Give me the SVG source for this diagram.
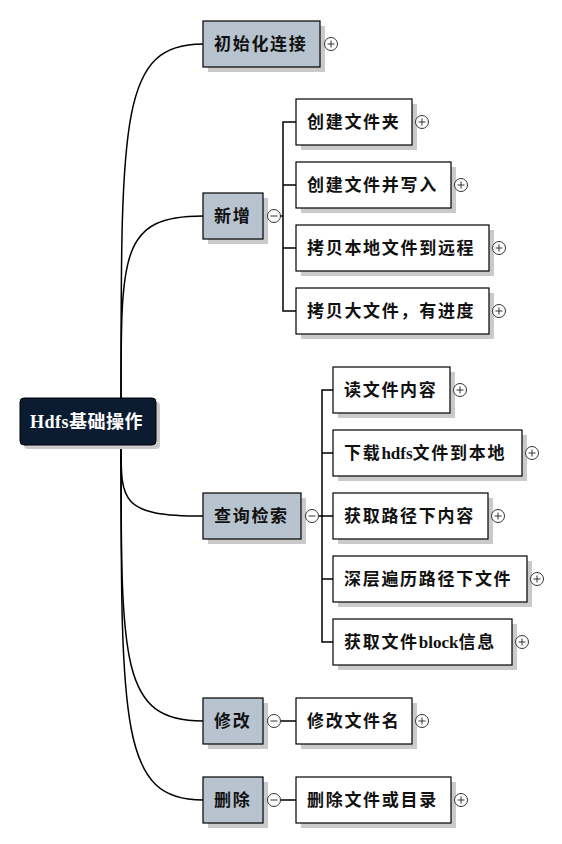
<svg xmlns="http://www.w3.org/2000/svg" width="562" height="844" viewBox="0 0 562 844">
<style>
text{font-family:'Liberation Serif','Noto Sans CJK SC',serif;font-weight:bold;font-size:17px;letter-spacing:1.7px;fill:#111}
.lat{letter-spacing:0}
.sh{fill:#cacaca}
.l1{fill:#b7c3cf;stroke:#000;stroke-width:1.2}
.l2{fill:#fff;stroke:#000;stroke-width:1.2}
.root{fill:#0b1c31;stroke:#000;stroke-width:1}
.rt{fill:#fff;font-size:18px;letter-spacing:0.5px}
.cir{fill:#fff;stroke:#333;stroke-width:1}
.sign{stroke:#333;stroke-width:1;fill:none}
.conn{fill:none;stroke:#000;stroke-width:1.5}
</style>
<defs>
<g id="plus"><circle class="cir" r="6.5"/><path class="sign" d="M-3.5,0H3.5M0,-3.5V3.5"/></g>
<g id="minus"><circle class="cir" r="6.5"/><path class="sign" d="M-3.5,0H3.5"/></g>
</defs>
<rect width="562" height="844" fill="#fff"/>
<g id="connectors">
<path class="conn" d="M121,398 C121,114.8 121,44 203,44"/>
<path class="conn" d="M121,398 C121,252.4 121,216 203,216"/>
<path class="conn" d="M121,445 C121,501.8 121,516 203,516"/>
<path class="conn" d="M121,445 C121,665.8 121,721 203,721"/>
<path class="conn" d="M121,445 C121,729 121,800 203,800"/>
<path class="conn" d="M280.5,216H283M296,122H283V311H296M283,185H296M283,248H296"/>
<path class="conn" d="M318.5,516H322M333,390H322V642H333M322,453H333M322,516H333M322,579H333"/>
<path class="conn" d="M280.5,721H296M280.5,800H296"/>
</g>
<g id="root">
<rect class="sh" x="24" y="402" width="136" height="47" rx="4"/>
<rect class="root" x="20" y="398" width="136" height="47" rx="4"/>
<text class="rt" x="30" y="428">Hdfs基础操作</text>
</g>
<g id="n-init">
<rect class="sh" x="208" y="26" width="117" height="46"/>
<rect class="l1" x="203" y="21" width="117" height="46"/>
<text x="214" y="50">初始化连接</text>
<use href="#plus" x="331" y="44"/>
</g>
<g id="n-add">
<rect class="sh" x="208" y="198" width="60" height="46"/>
<rect class="l1" x="203" y="193" width="60" height="46"/>
<text x="214" y="222">新增</text>
<use href="#minus" x="274" y="216"/>
</g>
<g id="n-query">
<rect class="sh" x="208" y="498" width="98" height="46"/>
<rect class="l1" x="203" y="493" width="98" height="46"/>
<text x="214" y="522">查询检索</text>
<use href="#minus" x="312" y="516"/>
</g>
<g id="n-modify">
<rect class="sh" x="208" y="703" width="60" height="46"/>
<rect class="l1" x="203" y="698" width="60" height="46"/>
<text x="214" y="727">修改</text>
<use href="#minus" x="274" y="721"/>
</g>
<g id="n-delete">
<rect class="sh" x="208" y="782" width="60" height="46"/>
<rect class="l1" x="203" y="777" width="60" height="46"/>
<text x="214" y="806">删除</text>
<use href="#minus" x="274" y="800"/>
</g>
<g id="n-mkdir">
<rect class="sh" x="301" y="104" width="116" height="46"/>
<rect class="l2" x="296" y="99" width="116" height="46"/>
<text x="307" y="128">创建文件夹</text>
<use href="#plus" x="422" y="122"/>
</g>
<g id="n-create-write">
<rect class="sh" x="301" y="167" width="155" height="46"/>
<rect class="l2" x="296" y="162" width="155" height="46"/>
<text x="307" y="191">创建文件并写入</text>
<use href="#plus" x="461" y="185"/>
</g>
<g id="n-copy-local">
<rect class="sh" x="301" y="230" width="193" height="46"/>
<rect class="l2" x="296" y="225" width="193" height="46"/>
<text x="307" y="254">拷贝本地文件到远程</text>
<use href="#plus" x="499" y="248"/>
</g>
<g id="n-copy-big">
<rect class="sh" x="301" y="293" width="193" height="46"/>
<rect class="l2" x="296" y="288" width="193" height="46"/>
<text x="307" y="317">拷贝大文件，有进度</text>
<use href="#plus" x="499" y="311"/>
</g>
<g id="n-read">
<rect class="sh" x="338" y="372" width="117" height="46"/>
<rect class="l2" x="333" y="367" width="117" height="46"/>
<text x="344" y="396">读文件内容</text>
<use href="#plus" x="460" y="390"/>
</g>
<g id="n-download">
<rect class="sh" x="338" y="435" width="189" height="46"/>
<rect class="l2" x="333" y="430" width="189" height="46"/>
<text x="344" y="459">下载<tspan class="lat">hdfs</tspan>文件到本地</text>
<use href="#plus" x="532" y="453"/>
</g>
<g id="n-list">
<rect class="sh" x="338" y="498" width="155" height="46"/>
<rect class="l2" x="333" y="493" width="155" height="46"/>
<text x="344" y="522">获取路径下内容</text>
<use href="#plus" x="498" y="516"/>
</g>
<g id="n-deep">
<rect class="sh" x="338" y="561" width="194" height="46"/>
<rect class="l2" x="333" y="556" width="194" height="46"/>
<text x="344" y="585">深层遍历路径下文件</text>
<use href="#plus" x="537" y="579"/>
</g>
<g id="n-block">
<rect class="sh" x="338" y="624" width="179" height="46"/>
<rect class="l2" x="333" y="619" width="179" height="46"/>
<text x="344" y="648">获取文件<tspan class="lat">block</tspan>信息</text>
<use href="#plus" x="522" y="642"/>
</g>
<g id="n-rename">
<rect class="sh" x="301" y="703" width="116" height="46"/>
<rect class="l2" x="296" y="698" width="116" height="46"/>
<text x="307" y="727">修改文件名</text>
<use href="#plus" x="422" y="721"/>
</g>
<g id="n-remove">
<rect class="sh" x="301" y="782" width="155" height="46"/>
<rect class="l2" x="296" y="777" width="155" height="46"/>
<text x="307" y="806">删除文件或目录</text>
<use href="#plus" x="461" y="800"/>
</g>
</svg>
